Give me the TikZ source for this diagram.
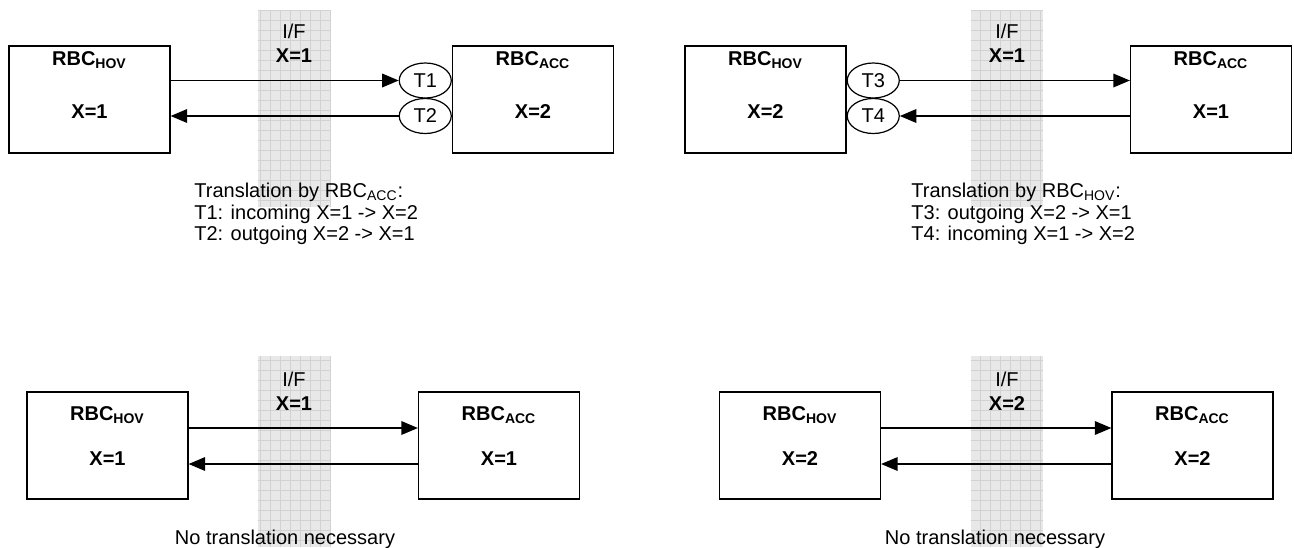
\documentclass[tikz,border=0pt]{standalone}
\usepackage{fontspec}
\setmainfont{Liberation Sans}
\usepackage{tikz}
\usetikzlibrary{shapes, arrows, positioning}
\tikzstyle{rbc} = [rectangle, draw, line width=0.65pt, minimum width=80.5pt, minimum height=53.5pt]
\tikzstyle{rbcname} = [inner sep=0pt, font=\bfseries]
\tikzstyle{tcell} = [ellipse, draw, line width=0.6pt, minimum width=26pt, minimum height=17.5pt, inner sep=0pt]
\tikzstyle{ifband} = [rectangle, fill=gray!18, minimum width=36pt, inner sep=0pt]
\tikzstyle{gridline} = [draw=gray!35, line width=0.3pt]
\tikzstyle{iflabel} = [inner sep=0pt, align=center, font=\fontsize{10}{12}\selectfont]
\tikzstyle{note} = [inner sep=0pt, align=left, anchor=north west]
\tikzstyle{line} = [draw, line width=0.9pt, -triangle 45]

\begin{document}
\begin{tikzpicture}[x=0.5pt, y=-0.5pt, font=\fontsize{10}{10.75}\selectfont]
    \useasboundingbox (0,0) rectangle (1294,547);

    \node[ifband, minimum height=98.5pt] (ifA) at (294,108.5) {};
    \draw[gridline, step=5pt] (ifA.south west) grid (ifA.north east);
    \node[iflabel, below=7pt of ifA.north] (ifAlab) {I/F\\\textbf{X=1}};
    \node[rbc] (hovA) at (89.5,99.5) {};
    \node[rbcname, below=3pt of hovA.north] (hovAname) {RBC\textsubscript{HOV}};
    \node[rbcname, above=17.5pt of hovA.south] (hovAx) {X=1};
    \node[rbc] (accA) at (533,99.5) {};
    \node[rbcname, below=3pt of accA.north] (accAname) {RBC\textsubscript{ACC}};
    \node[rbcname, above=17.5pt of accA.south] (accAx) {X=2};
    \node[tcell, left=0pt of accA.west, yshift=9.5pt] (t1) {T1};
    \node[tcell, left=0pt of accA.west, yshift=-8.25pt] (t2) {T2};
    \path[line] (hovA.east |- t1.west) -- (t1.west);
    \path[line] (t2.west) -- (hovA.east |- t2.west);
    \node[note] (noteA) at (194,183) {Translation by RBC\textsubscript{ACC}:\\T1: incoming X=1 -> X=2\\T2: outgoing X=2 -> X=1};

    \node[ifband, minimum height=98.5pt] (ifB) at (1007,108.5) {};
    \draw[gridline, step=5pt] (ifB.south west) grid (ifB.north east);
    \node[iflabel, below=7pt of ifB.north] (ifBlab) {I/F\\\textbf{X=1}};
    \node[rbc] (hovB) at (765.5,99.5) {};
    \node[rbcname, below=3pt of hovB.north] (hovBname) {RBC\textsubscript{HOV}};
    \node[rbcname, above=17.5pt of hovB.south] (hovBx) {X=2};
    \node[rbc] (accB) at (1211,99.5) {};
    \node[rbcname, below=3pt of accB.north] (accBname) {RBC\textsubscript{ACC}};
    \node[rbcname, above=17.5pt of accB.south] (accBx) {X=1};
    \node[tcell, right=0pt of hovB.east, yshift=9.5pt] (t3) {T3};
    \node[tcell, right=0pt of hovB.east, yshift=-8.25pt] (t4) {T4};
    \path[line] (t3.east) -- (accB.west |- t3.east);
    \path[line] (accB.west |- t4.east) -- (t4.east);
    \node[note] (noteB) at (911,183) {Translation by RBC\textsubscript{HOV}:\\T3: outgoing X=2 -> X=1\\T4: incoming X=1 -> X=2};

    \node[ifband, minimum height=95.5pt] (ifC) at (294,451.5) {};
    \draw[gridline, step=5pt] (ifC.south west) grid (ifC.north east);
    \node[iflabel, below=8pt of ifC.north] (ifClab) {I/F\\\textbf{X=1}};
    \node[rbc] (hovC) at (107.5,445.5) {};
    \node[rbcname, below=7.5pt of hovC.north] (hovCname) {RBC\textsubscript{HOV}};
    \node[rbcname, above=17pt of hovC.south] (hovCx) {X=1};
    \node[rbc] (accC) at (499,445.5) {};
    \node[rbcname, below=7.5pt of accC.north] (accCname) {RBC\textsubscript{ACC}};
    \node[rbcname, above=17pt of accC.south] (accCx) {X=1};
    \path[line] ([yshift=8.75pt]hovC.east) -- ([yshift=8.75pt]accC.west);
    \path[line] ([yshift=-9.25pt]accC.west) -- ([yshift=-9.25pt]hovC.east);
    \node[anchor=base, inner sep=0pt] (noteC) at (285,544) {No translation necessary};

    \node[ifband, minimum height=95.5pt] (ifD) at (1007,451.5) {};
    \draw[gridline, step=5pt] (ifD.south west) grid (ifD.north east);
    \node[iflabel, below=8pt of ifD.north] (ifDlab) {I/F\\\textbf{X=2}};
    \node[rbc] (hovD) at (800,445.5) {};
    \node[rbcname, below=7.5pt of hovD.north] (hovDname) {RBC\textsubscript{HOV}};
    \node[rbcname, above=17pt of hovD.south] (hovDx) {X=2};
    \node[rbc] (accD) at (1192.5,445.5) {};
    \node[rbcname, below=7.5pt of accD.north] (accDname) {RBC\textsubscript{ACC}};
    \node[rbcname, above=17pt of accD.south] (accDx) {X=2};
    \path[line] ([yshift=8.75pt]hovD.east) -- ([yshift=8.75pt]accD.west);
    \path[line] ([yshift=-9.25pt]accD.west) -- ([yshift=-9.25pt]hovD.east);
    \node[anchor=base, inner sep=0pt] (noteD) at (995,544) {No translation necessary};
\end{tikzpicture}
\end{document}
